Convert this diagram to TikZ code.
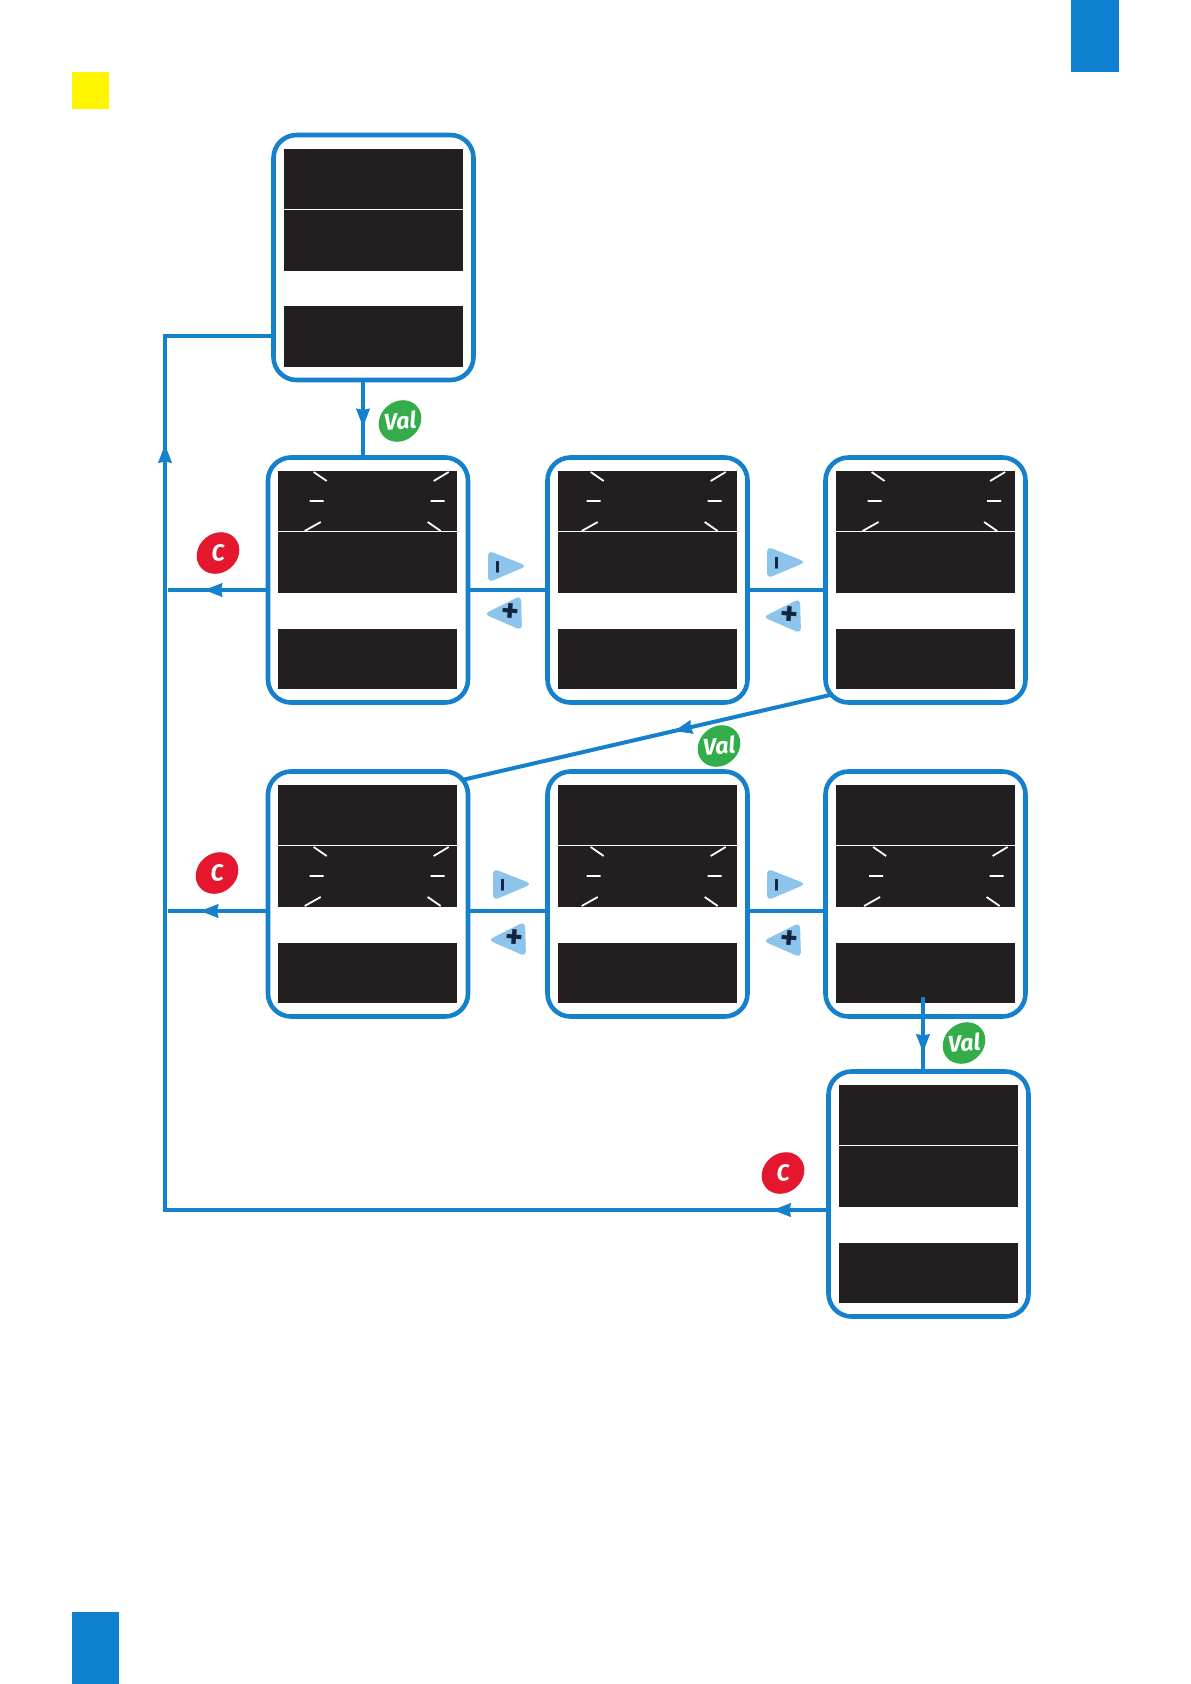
\documentclass[tikz,border=0pt]{standalone}
\usepackage{fontspec}
\setmainfont{Fira Sans}
\usetikzlibrary{positioning,arrows.meta,decorations.markings,shapes.geometric}
\definecolor{wire}{HTML}{1580CC}
\definecolor{tab}{HTML}{0F7FD0}
\definecolor{lcd}{HTML}{231F20}
\definecolor{okgreen}{HTML}{33AD49}
\definecolor{cancelred}{HTML}{E4172F}
\definecolor{key}{HTML}{8CC4EC}
\definecolor{keyink}{HTML}{14253F}
\definecolor{marker}{HTML}{FFF500}
\newcommand{\blink}[3]{%
  \begin{scope}[shift={(#1.north west)}]
    \draw[tick] (36+#2,1)--(49+#2,10) (32+#2,30)--(46+#2,30) (27+#2,60)--(43+#2,51)
      (171+#3,1)--(156+#3,10) (153+#3,30)--(167+#3,30) (150+#3,51)--(163+#3,60);
  \end{scope}}
\tikzset{
  panel/.style={draw=wire, fill=white, line width=4.6pt, rounded corners=23pt, minimum width=200pt, minimum height=245pt, outer sep=0pt},
  screen/.style={fill=lcd, minimum width=179pt, minimum height=60.5pt, inner sep=0pt, outer sep=0pt},
  tick/.style={draw=white, line width=1.8pt},
  flow/.style={draw=wire, line width=4pt},
  head/.tip={Stealth[length=18pt,width=13pt,inset=1pt]},
  tipat/.style={decoration={markings, mark=at position #1 with {\arrow{head}}}, postaction={decorate}},
  val/.style={ellipse, fill=okgreen, minimum width=45pt, minimum height=39pt, inner sep=0pt, rotate=40},
  cancel/.style={val, fill=cancelred},
  valtext/.style={text=white, inner sep=0pt, rotate=4, font=\fontsize{23}{23}\selectfont\bfseries\itshape},
  minuskey/.pic={
    \fill[key, rounded corners=5pt] (0,-16.5) -- (39,-1) -- (0,15.5) -- cycle;
    \node[text=keyink, inner sep=0pt, rotate=90, font=\fontsize{24}{24}\selectfont\bfseries] (-g) at (13,0) {–};
  },
  pluskey/.pic={
    \fill[key, rounded corners=5pt] (0,-17.5) -- (-37,1) -- (1,17.5) -- cycle;
    \node[text=keyink, inner sep=0pt, rotate=-5, font=\fontsize{34}{34}\selectfont\bfseries] (-g) at (-11,0) {+};
  },
}
\begin{document}
\begin{tikzpicture}[x=1pt,y=-1pt]
  \useasboundingbox (0,0) rectangle (1191,1684);
  \node[fill=tab, minimum width=48pt, minimum height=72pt, inner sep=0pt] (tabtop) at (1095,36) {};
  \node[fill=tab, minimum width=47pt, minimum height=72pt, inner sep=0pt] (tabbot) at (95.5,1648) {};
  \node[fill=marker, minimum size=37pt, inner sep=0pt] (corner) at (90.5,90.5) {};

  \node[panel] (start) at (373.5,257.5) {};
  \node[panel] (pa) at (368,580) {};
  \node[panel] (pb) at (647.5,580) {};
  \node[panel] (pc) at (925.5,580) {};
  \node[panel] (pd) at (368,894) {};
  \node[panel] (pe) at (647.5,894) {};
  \node[panel] (pf) at (925.5,894) {};
  \node[panel] (last) at (928.5,1194) {};

  \foreach \p/\dx/\h in {start/0/60.5,pa/-0.8/60,pb/0/60,pc/-0.4/60,pd/-0.8/60,pe/0/60,pf/-0.4/60,last/-0.4/60} {
    \node[screen, below=13.5pt of \p.north, xshift=\dx pt, minimum height=\h pt] (\p-top) {};
    \node[screen, below=1pt of \p-top, minimum height=121pt-\h pt] (\p-mid) {};
    \node[screen, above=13.5pt of \p.south, xshift=\dx pt] (\p-bot) {};
  }
  \blink{pa-top}{0}{0} \blink{pb-top}{-3.3}{-3.3} \blink{pc-top}{0}{-1.5}
  \blink{pd-mid}{0}{0} \blink{pe-mid}{-3.3}{-3.3} \blink{pf-mid}{1.5}{1}

  % down the two Val steps
  \draw[flow, tipat=45pt] ([xshift=-10.5pt,yshift=-2pt]start.south) -- ([xshift=-5pt]pa.north);
  \node[val] (vala) at (400,421) {};
  \node[valtext] (vala-t) at (vala) {Val};
  \draw[flow, tipat=0.424] ([xshift=4.5pt,yshift=7.5pt]pc.south west) -- ([xshift=-6pt,yshift=-8.5pt]pd.north east);
  \node[val] (valb) at (719,746) {};
  \node[valtext] (valb-t) at (valb) {Val};
  \draw[flow, tipat=56pt] ([xshift=-2.5pt,yshift=20pt]pf.south) -- ([xshift=-5.5pt]last.north);
  \node[val] (valc) at (964,1043) {};
  \node[valtext] (valc-t) at (valc) {Val};

  % between the panels
  \draw[flow] ([yshift=-10pt]pa.east) -- ([yshift=-10pt]pb.west);
  \draw[flow] ([yshift=-10pt]pb.east) -- ([yshift=-10pt]pc.west);
  \draw[flow] ([yshift=-17pt]pd.east) -- ([yshift=-17pt]pe.west);
  \draw[flow] ([yshift=-17pt]pe.east) -- ([yshift=-17pt]pf.west);
  \pic (ma) at (488,567) {minuskey};
  \pic (qa) at (521,613) {pluskey};
  \pic (mb) at (767,563) {minuskey};
  \pic (qb) at (800,616) {pluskey};
  \pic (mc) at (493,885) {minuskey};
  \pic (qc) at (525,939) {pluskey};
  \pic (md) at (767,885) {minuskey};
  \pic (qd) at (800,940) {pluskey};

  % back to the start with C
  \coordinate (busa) at (168,590);
  \coordinate (busb) at (168,911);
  \coordinate (bustop) at (165,336);
  \draw[flow, tipat=64pt] ([yshift=-10pt]pa.west) -- (busa);
  \draw[flow, tipat=68pt] ([yshift=-17pt]pd.west) -- (busb);
  \draw[flow, decoration={markings, mark=at position 56pt with {\arrow{head}}, mark=at position 1429pt with {\arrow{head}}}, postaction={decorate}]
    ([yshift=-16pt]last.west) -| (bustop) -- ([yshift=-78.5pt]start.west);
  \node[cancel] (ca) at (218,553) {};
  \node[valtext] (ca-t) at (ca) {C};
  \node[cancel] (cb) at (217,873) {};
  \node[valtext] (cb-t) at (cb) {C};
  \node[cancel] (cc) at (783,1173) {};
  \node[valtext] (cc-t) at (cc) {C};
\end{tikzpicture}
\end{document}
